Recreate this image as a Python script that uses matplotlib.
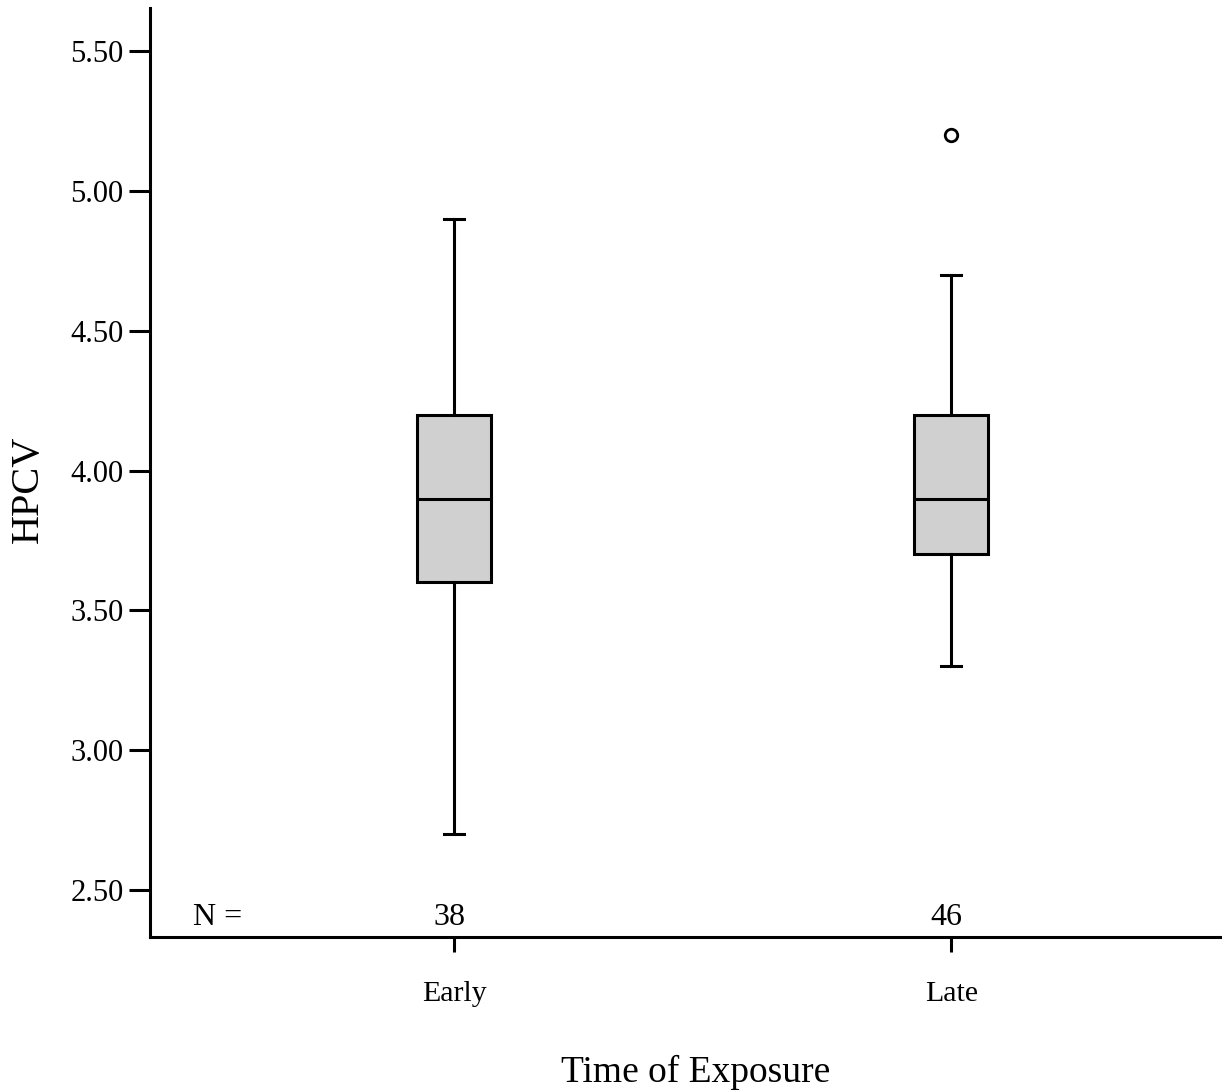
import matplotlib
matplotlib.use('Agg')
import matplotlib.pyplot as plt

# data
groups = ['Early', 'Late']
counts = [38, 46]
whisker_low = [2.7, 3.3]
q1 = [3.6, 3.7]
median = [3.9, 3.9]
q3 = [4.2, 4.2]
whisker_high = [4.9, 4.7]
outliers = [[], [5.2]]
yticks = [2.50, 3.00, 3.50, 4.00, 4.50, 5.00, 5.50]

plt.rcParams['font.family'] = ['Liberation Serif', 'DejaVu Serif']

stats = []
for i in range(len(groups)):
    stats.append({'label': groups[i], 'whislo': whisker_low[i], 'q1': q1[i],
                  'med': median[i], 'q3': q3[i], 'whishi': whisker_high[i],
                  'fliers': outliers[i]})

fig = plt.figure(figsize=(12.22, 10.9), dpi=100)
ax = fig.add_axes([150 / 1222, 1 - 937 / 1090, 1 - 150 / 1222, (937 - 8) / 1090])

lw = 2.2
pos = [1, 2]
ax.bxp(stats, positions=pos, widths=0.149, patch_artist=True,
       boxprops=dict(facecolor='#d0d0d0', edgecolor='black', linewidth=lw),
       medianprops=dict(color='black', linewidth=lw),
       whiskerprops=dict(color='black', linewidth=lw),
       capprops=dict(color='black', linewidth=lw),
       capwidths=0.04,
       flierprops=dict(marker='o', markersize=9, markerfacecolor='white',
                       markeredgecolor='black', markeredgewidth=2))

ax.set_xlim(0.388, 2.545)
ax.set_ylim(2.332, 5.654)
ax.set_yticks(yticks)
ax.set_yticklabels(['%.2f' % v for v in yticks], fontsize=22)
ax.set_xticks(pos)
ax.set_xticklabels(groups, fontsize=21.5)
ax.tick_params(axis='y', length=15, width=lw, pad=4)
ax.tick_params(axis='x', length=11, width=lw, pad=21)

for s in ['top', 'right']:
    ax.spines[s].set_visible(False)
for s in ['left', 'bottom']:
    ax.spines[s].set_linewidth(lw)

# N counts
ax.text(0.524, 2.40, 'N =', fontsize=23, ha='center', va='center')
for p, n in zip(pos, counts):
    ax.text(p - 0.01, 2.40, str(n), fontsize=23, ha='center', va='center')

ax.set_xlabel('Time of Exposure', fontsize=27, labelpad=34)
ax.xaxis.label.set_x(0.509)
ax.set_ylabel('HPCV', fontsize=29, labelpad=17)
ax.yaxis.label.set_y(0.482)

fig.savefig('out.png', dpi=100)
